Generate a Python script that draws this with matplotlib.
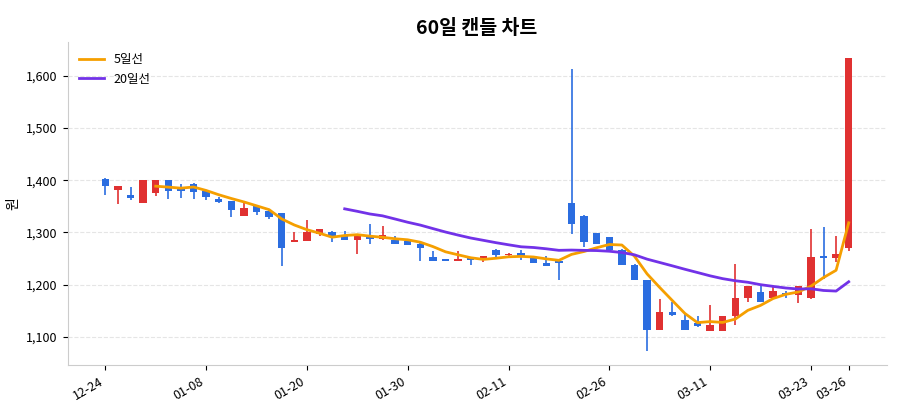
import matplotlib
matplotlib.use("Agg")
import matplotlib.pyplot as plt
import numpy as np
import pandas as pd

plt.rcParams['font.family'] = ['Noto Sans CJK KR', 'DejaVu Sans']

opens  = [1403,1381,1372,1356,1375,1400,1385,1393,1379,1364,1360,1332,1351,1341,1338,1282,1284,1296,1301,1293,
          1286,1293,1287,1286,1283,1278,1253,1249,1245,1251,1251,1267,1256,1261,1253,1241,1246,1356,1332,1298,
          1291,1267,1238,1208,1112,1148,1132,1126,1110,1111,1139,1174,1186,1175,1183,1180,1174,1254,1251,1271]
closes = [1388,1389,1366,1400,1400,1379,1379,1377,1367,1359,1343,1346,1340,1330,1270,1285,1301,1306,1292,1286,
          1293,1287,1295,1278,1276,1270,1245,1245,1249,1248,1254,1256,1259,1253,1242,1236,1242,1316,1281,1278,
          1267,1237,1208,1112,1148,1142,1113,1120,1122,1140,1174,1197,1167,1188,1180,1197,1252,1250,1258,1635]
highs  = [1404,1389,1387,1400,1400,1400,1393,1394,1380,1367,1360,1359,1351,1342,1338,1300,1324,1306,1302,1302,
          1294,1316,1313,1294,1286,1280,1265,1249,1264,1252,1255,1269,1260,1267,1254,1255,1247,1614,1333,1299,
          1291,1268,1239,1208,1172,1166,1144,1140,1161,1140,1240,1197,1197,1197,1188,1198,1307,1311,1294,1635]
lows   = [1372,1355,1362,1356,1369,1364,1365,1364,1363,1357,1329,1332,1333,1326,1235,1282,1283,1293,1281,1285,
          1259,1278,1286,1278,1276,1246,1245,1245,1245,1238,1243,1253,1255,1248,1242,1236,1208,1297,1272,1278,
          1264,1237,1208,1073,1112,1140,1112,1119,1110,1111,1123,1167,1167,1175,1175,1164,1172,1210,1243,1264]
tick_pos = [0, 8, 16, 24, 32, 40, 48, 56, 59]
tick_labels = ['12-24','01-08','01-20','01-30','02-11','02-26','03-11','03-23','03-26']

RED, BLUE = '#e03131', '#2b6de0'
x = np.arange(len(closes))
fig, ax = plt.subplots(figsize=(9, 4.2), dpi=100)
for i in x:
    o, c, h, l = opens[i], closes[i], highs[i], lows[i]
    col = RED if c >= o else BLUE
    ax.vlines(i, l, h, color=col, lw=1.2, zorder=2)
    ax.bar(i, max(abs(c - o), 1.5), bottom=min(o, c), width=0.6, color=col, zorder=3)

s = pd.Series(closes, dtype=float)
ax.plot(x, s.rolling(5).mean(), color='#f59f00', lw=2, label='5일선', zorder=4)
ax.plot(x, s.rolling(20).mean(), color='#7232e8', lw=2, label='20일선', zorder=4)

ax.set_xlim(-3, 62)
ax.set_ylim(1045, 1665)
ax.set_yticks([1100, 1200, 1300, 1400, 1500, 1600])
ax.yaxis.set_major_formatter(matplotlib.ticker.FuncFormatter(lambda v, p: f'{v:,.0f}'))
ax.set_xticks(tick_pos)
ax.set_xticklabels(tick_labels, rotation=30, ha='right', fontsize=9)
ax.tick_params(axis='y', labelsize=9)
ax.grid(axis='y', ls='--', color='#e5e5e5', lw=0.8)
ax.set_axisbelow(True)
for sp in ['top', 'right']:
    ax.spines[sp].set_visible(False)
for sp in ['left', 'bottom']:
    ax.spines[sp].set_color('#cccccc')
ax.set_ylabel('원', fontsize=10)
ax.set_title('60일 캔들 차트', fontsize=14, fontweight='bold')
ax.legend(loc='upper left', frameon=False, fontsize=9)
plt.subplots_adjust(left=0.075, right=0.985, top=0.9, bottom=0.13)
fig.savefig('out.png', dpi=100)
